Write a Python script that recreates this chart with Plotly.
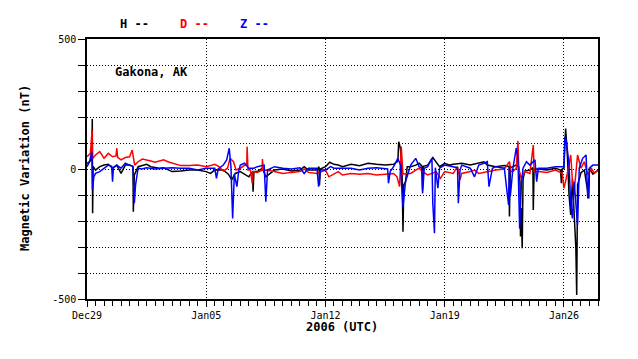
import pandas as pd
import plotly.graph_objects as go

start = pd.Timestamp("2005-12-29")

# Day offsets from Dec 29 00:00 UTC and values (nT)
h_days = [0, 0.15, 0.28, 0.31, 0.33, 0.36, 0.5, 0.75, 1.0, 1.25, 1.5, 1.75, 2.0, 2.25, 2.5, 2.7, 2.72, 2.78,
          3.0, 3.25, 3.5, 3.75, 4.0, 4.25, 4.5, 4.75, 5.0, 5.5, 6.0, 6.5, 7.0, 7.25, 7.5, 8.0, 8.3, 8.5, 8.7,
          9.0, 9.5, 9.72, 9.75, 9.8, 10.0, 10.3, 10.5, 11.0, 11.5, 12.0, 12.5, 12.75, 13.0, 13.5, 13.62, 13.65,
          13.7, 14.0, 14.25, 14.5, 14.75, 15.0, 15.5, 16.0, 16.5, 17.0, 17.5, 18.0, 18.25, 18.3, 18.4, 18.5,
          18.55, 18.6, 18.7, 18.8, 19.0, 19.3, 19.5, 19.68, 19.7, 19.75, 20.0, 20.3, 20.5, 20.7, 21.0, 21.3,
          21.5, 22.0, 22.5, 23.0, 23.3, 23.5, 24.0, 24.5, 24.78, 24.8, 24.85, 25.0, 25.2, 25.35, 25.42, 25.45,
          25.5, 25.55, 25.6, 25.7, 26.0, 26.18, 26.2, 26.25, 26.5, 27.0, 27.5, 27.8, 27.85, 27.9, 28.0, 28.1,
          28.2, 28.3, 28.4, 28.5, 28.7, 28.75, 28.8, 28.9, 29.0, 29.2, 29.46, 29.5, 29.7, 30.0]
h_vals = [22, 28, 40, 192, -170, 10, -4, 9, 15, 18, 3, 15, -17, 15, 15, 10, -164, -23,
          9, 15, 18, 9, 5, 3, 5, -4, -10, -8, -4, -4, -10, -17, -4, -4, -20, -42, -17,
          -10, -30, -10, -87, -10, -10, 3, -30, -4, 0, -8, -4, 9, -4, -4, 9, -62,
          0, 9, 26, 18, 15, 9, 18, 13, 22, 18, 15, 18, 30, 105, 80, -28,
          -241, -60, -49, 9, 9, 15, 22, 10, -80, 10, 15, 44, 28, 9, 22, 15,
          18, 22, 15, 22, 28, 15, 9, 13, 10, -183, 5, 9, 15, 9, -50, -260,
          -150, -305, -40, -8, -4, 5, -158, 0, 0, -4, 3, -4, -55, 0, 3, 156,
          54, -100, -177, -40, -305, -485, -60, -40, -14, -4, -113, 3, -20, -4]

d_days = [0, 0.2, 0.3, 0.33, 0.5, 0.75, 1.0, 1.25, 1.5, 1.7, 1.75, 1.8, 2.0, 2.25, 2.5, 2.65, 2.8, 3.0, 3.25,
          3.5, 3.75, 4.0, 4.25, 4.5, 4.75, 5.0, 5.25, 5.5, 6.0, 6.5, 7.0, 7.25, 7.5, 7.75, 8.0, 8.25, 8.4, 8.6,
          8.75, 9.0, 9.25, 9.38, 9.4, 9.45, 9.6, 9.7, 9.75, 10.0, 10.28, 10.3, 10.35, 10.5, 11.0, 11.5, 12.0,
          12.5, 12.75, 13.0, 13.5, 14.0, 14.2, 14.5, 14.75, 15.0, 15.5, 16.0, 16.5, 17.0, 17.5, 18.0, 18.2,
          18.35, 18.45, 18.55, 18.8, 19.0, 19.3, 19.5, 19.7, 20.0, 20.25, 20.5, 20.75, 21.0, 21.5, 21.75, 21.9,
          22.0, 22.5, 22.75, 23.0, 23.5, 24.0, 24.5, 24.8, 24.9, 25.0, 25.2, 25.3, 25.35, 25.5, 25.7, 26.0,
          26.2, 26.25, 26.5, 27.0, 27.5, 27.9, 28.0, 28.2, 28.4, 28.5, 28.6, 28.8, 29.0, 29.2, 29.4, 29.6,
          29.8, 30.0]
d_vals = [47, 60, 150, 40, 54, 67, 41, 60, 47, 50, 80, 45, 35, 44, 47, 73, 15, 28, 38,
          35, 31, 26, 31, 35, 28, 22, 18, 13, 13, 15, 9, 15, 18, 9, -8, 3, 41, 28,
          -4, 3, 15, 20, 86, -4, -4, -55, -10, -13, -5, 38, -5, -4, -10, -17, -13,
          -10, 0, -13, -17, -4, -30, -20, -10, -23, -17, -20, -17, -23, -20, -17, -30,
          -68, 86, -20, -17, -17, -4, 3, -10, -23, -17, -10, -36, -10, -17, 9, -42,
          -17, -10, -4, -17, -10, -4, 0, 28, -10, -10, 3, 108, 0, -36, -10, -17,
          92, -10, -10, -13, -4, -17, -74, -17, 54, -49, -87, 54, 3, 28, -23, 3,
          -17, -4]

z_days = [0, 0.15, 0.28, 0.32, 0.4, 0.5, 0.75, 1.0, 1.25, 1.45, 1.5, 1.55, 1.75, 2.0, 2.25, 2.5, 2.7, 2.78,
          2.85, 3.0, 3.2, 3.5, 4.0, 4.5, 5.0, 5.5, 6.0, 6.5, 7.0, 7.5, 7.6, 7.7, 8.0, 8.2, 8.35, 8.45, 8.55,
          8.65, 8.8, 8.9, 9.0, 9.25, 9.5, 9.8, 10.0, 10.4, 10.5, 10.6, 11.0, 11.5, 12.0, 12.5, 12.75, 13.0,
          13.5, 13.6, 13.7, 14.0, 14.3, 14.5, 15.0, 15.5, 16.0, 16.5, 17.0, 17.5, 17.65, 17.7, 17.8, 18.0,
          18.25, 18.4, 18.5, 18.55, 18.7, 19.0, 19.3, 19.5, 19.65, 19.7, 19.8, 20.0, 20.25, 20.3, 20.4, 20.45,
          20.6, 20.7, 21.0, 21.5, 21.75, 21.8, 21.9, 22.0, 22.5, 22.75, 23.0, 23.3, 23.5, 23.6, 23.8, 24.0,
          24.5, 24.75, 24.8, 24.85, 25.0, 25.2, 25.3, 25.4, 25.5, 25.6, 25.8, 26.0, 26.3, 26.4, 26.5, 27.0,
          27.5, 28.0, 28.05, 28.15, 28.3, 28.4, 28.5, 28.6, 28.8, 28.9, 29.1, 29.3, 29.4, 29.5, 29.7, 30.0]
z_vals = [9, 28, 67, -80, -30, -17, -10, 3, 15, 10, -49, 5, 15, 3, 22, 15, 10, -132,
          -62, 3, 0, 5, 0, 3, 5, 3, 3, -4, 3, 3, -36, 0, 15, 35, 80, 10, -190,
          -20, -68, -10, 15, 22, 3, 3, 9, 15, -126, -4, 9, 3, 0, 5, -17, 3,
          3, -68, -4, -4, 9, 3, 3, 3, -4, 3, 5, 3, 0, -55, -10, 9,
          41, 15, -80, -145, -49, 15, 41, 9, 5, -94, 3, 9, 41, -132, -247, 5,
          -74, 3, 15, 9, 5, -132, -4, 15, 3, -30, 15, 22, 28, -68, 3, 9,
          3, -138, 10, -106, 0, 80, 41, -230, -60, 3, 28, 15, 35, -49, 3, 3,
          9, 9, 124, 106, 15, -138, -190, -49, -215, 3, 41, 54, -113, 3, 15, 15]

y_tick_vals = [-500, -400, -300, -200, -100, 0, 100, 200, 300, 400, 500]
y_tick_text = ["-500", "", "", "", "", "0", "", "", "", "", "500"]
x_tick_vals = ["2005-12-29", "2006-01-05", "2006-01-12", "2006-01-19", "2006-01-26"]
x_tick_text = ["Dec29", "Jan05", "Jan12", "Jan19", "Jan26"]


def to_time(days):
    return [start + pd.Timedelta(days=d) for d in days]


MONO = "DejaVu Sans Mono"
fig = go.Figure()
for name, days, vals, col in [("H", h_days, h_vals, "black"),
                              ("D", d_days, d_vals, "red"),
                              ("Z", z_days, z_vals, "blue")]:
    fig.add_trace(go.Scatter(x=to_time(days), y=vals, mode="lines", name=name,
                             line=dict(color=col, width=1.5), showlegend=False))

# page body has an 8px default margin, so the figure is sized/offset to compensate
fig.update_layout(
    width=630, height=351,
    margin=dict(l=79, r=40, t=31, b=60),
    paper_bgcolor="white", plot_bgcolor="white",
    font=dict(family=MONO, size=10, color="black"),
)
fig.update_xaxes(
    type="date", range=["2005-12-29", "2006-01-28"],
    tickvals=x_tick_vals, ticktext=x_tick_text,
    ticks="outside", ticklen=6, tickwidth=1, tickcolor="black",
    showline=True, linecolor="black", linewidth=1.5, mirror=True,
    showgrid=True, gridcolor="black", griddash="1px,2px", gridwidth=1,
    minor=dict(dtick=43200000, ticks="outside", ticklen=5, tickcolor="black", showgrid=False),
    tickfont=dict(family=MONO, size=10),
    zeroline=False,
)
fig.update_yaxes(
    range=[-500, 500], tickvals=y_tick_vals, ticktext=y_tick_text,
    ticks="outside", ticklen=7, tickwidth=1, tickcolor="black",
    showline=True, linecolor="black", linewidth=1.5, mirror=True,
    showgrid=True, gridcolor="black", griddash="1px,2px", gridwidth=1,
    tickfont=dict(family=MONO, size=10), zeroline=False,
)

ann = [
    dict(text="<b>H --</b>", x=118, y=24, color="black"),
    dict(text="<b>D --</b>", x=178, y=24, color="red"),
    dict(text="<b>Z --</b>", x=238, y=24, color="blue"),
    dict(text="<b>Gakona, AK</b>", x=113, y=72, color="black"),
]
for a in ann:
    fig.add_annotation(text=a["text"], xref="paper", yref="paper",
                       x=(a["x"] - 87) / 511, y=1 - (a["y"] - 39) / 260,
                       xanchor="left", yanchor="middle", showarrow=False,
                       font=dict(family=MONO, size=12, color=a["color"]))
fig.add_annotation(text="<b>2006 (UTC)</b>", xref="paper", yref="paper",
                   x=(342 - 87) / 511, y=1 - (327 - 39) / 260, xanchor="center", yanchor="middle",
                   showarrow=False, font=dict(family=MONO, size=12, color="black"))
fig.add_annotation(text="<b>Magnetic Variation (nT)</b>", xref="paper", yref="paper",
                   x=(25 - 87) / 511, y=1 - (168 - 39) / 260, xanchor="center", yanchor="middle",
                   textangle=-90, showarrow=False, font=dict(family=MONO, size=12, color="black"))

fig.write_html("out.html")
